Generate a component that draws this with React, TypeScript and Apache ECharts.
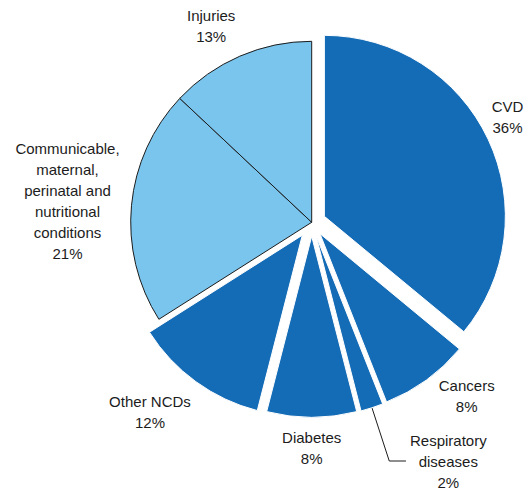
import React, { useEffect, useRef } from 'react';
import * as echarts from 'echarts';

// ---- data ----
const categories = [
  'CVD',
  'Cancers',
  'Respiratory\ndiseases',
  'Diabetes',
  'Other NCDs',
  'Communicable,\nmaternal,\nperinatal and\nnutritional\nconditions',
  'Injuries',
];
const shares = [36, 8, 2, 8, 12, 21, 13];
const groups = ['ncd', 'ncd', 'ncd', 'ncd', 'ncd', 'other', 'other'];

// ---- style / layout config ----
const DARK = '#156cb6';
const LIGHT = '#79c5ee';
const INK = '#1c1c1c';
const CENTER = [311.7, 222.3];
const RADIUS = 181;
const labelPlacement = [
  { len: 66.3, len2: -28 },
  { len: 33.7, len2: 28.8 },
  { len: 70, len2: 16.7 },
  { len: 44.7, len2: 0 },
  { len: 53.5, len2: 23.9 },
  { len: 45, len2: 19.2 },
  { len: 32.9, len2: 15.6 },
];
const explodeGroups = [
  { items: ['CVD', 'Cancers', 'Respiratory\ndiseases', 'Diabetes'], offset: 14 },
  { items: ['Other NCDs'], offset: 16 },
];
const LEADER_ITEM = 'Respiratory\ndiseases';

export default function App() {
  const ref = useRef<HTMLDivElement>(null);
  useEffect(() => {
    if (!ref.current) return;
    const chart = echarts.init(ref.current, undefined, { renderer: 'svg' });

    const baseSeries: any = {
      type: 'pie',
      z: 2,
      silent: true,
      center: CENTER,
      radius: RADIUS,
      startAngle: 90,
      clockwise: true,
      avoidLabelOverlap: false,
      emphasis: { disabled: true },
      label: {
        show: true,
        position: 'outside',
        distanceToLabelLine: 0,
        formatter: (p: any) =>
          [...String(p.name).split('\n'), `${p.value}%`].map((l) => `{c|${l}}`).join('\n'),
        rich: {
          c: {
            align: 'center',
            fontSize: 15,
            lineHeight: 21,
            color: INK,
            fontFamily: 'Liberation Sans, Arial, sans-serif',
          },
        },
      },
      labelLine: { show: false, smooth: false, lineStyle: { color: INK, width: 1 } },
      labelLayout: (params: any) =>
        categories[params.dataIndex] === LEADER_ITEM ? {} : { align: 'center' },
      data: categories.map((name, i) => ({
        name,
        value: shares[i],
        itemStyle:
          groups[i] === 'other'
            ? { color: LIGHT, borderColor: INK, borderWidth: 1 }
            : { color: 'rgba(0,0,0,0)', borderWidth: 0 },
        label: name === LEADER_ITEM ? { distanceToLabelLine: 4 } : {},
        labelLine: {
          show: name === LEADER_ITEM,
          length: labelPlacement[i].len,
          length2: labelPlacement[i].len2,
        },
      })),
    };

    const overlays = explodeGroups.map((g) => ({
      type: 'pie',
      z: 3,
      silent: true,
      center: CENTER,
      radius: RADIUS,
      startAngle: 90,
      clockwise: true,
      selectedMode: 'multiple',
      selectedOffset: g.offset,
      emphasis: { disabled: true },
      label: { show: false },
      labelLine: { show: false },
      select: { itemStyle: { color: DARK, borderColor: '#ffffff', borderWidth: 1 } },
      data: categories.map((name, i) => {
        const on = g.items.includes(name);
        return {
          name,
          value: shares[i],
          selected: on,
          itemStyle: on
            ? { color: DARK, borderColor: '#ffffff', borderWidth: 1 }
            : { color: 'rgba(0,0,0,0)', borderWidth: 0 },
        };
      }),
    }));

    chart.setOption({
      animation: false,
      backgroundColor: '#ffffff',
      series: [baseSeries, ...overlays],
    });
    return () => chart.dispose();
  }, []);

  return (
    <div
      ref={ref}
      style={{ position: 'fixed', left: 0, top: 0, width: 528, height: 491, background: '#fff' }}
    />
  );
}
